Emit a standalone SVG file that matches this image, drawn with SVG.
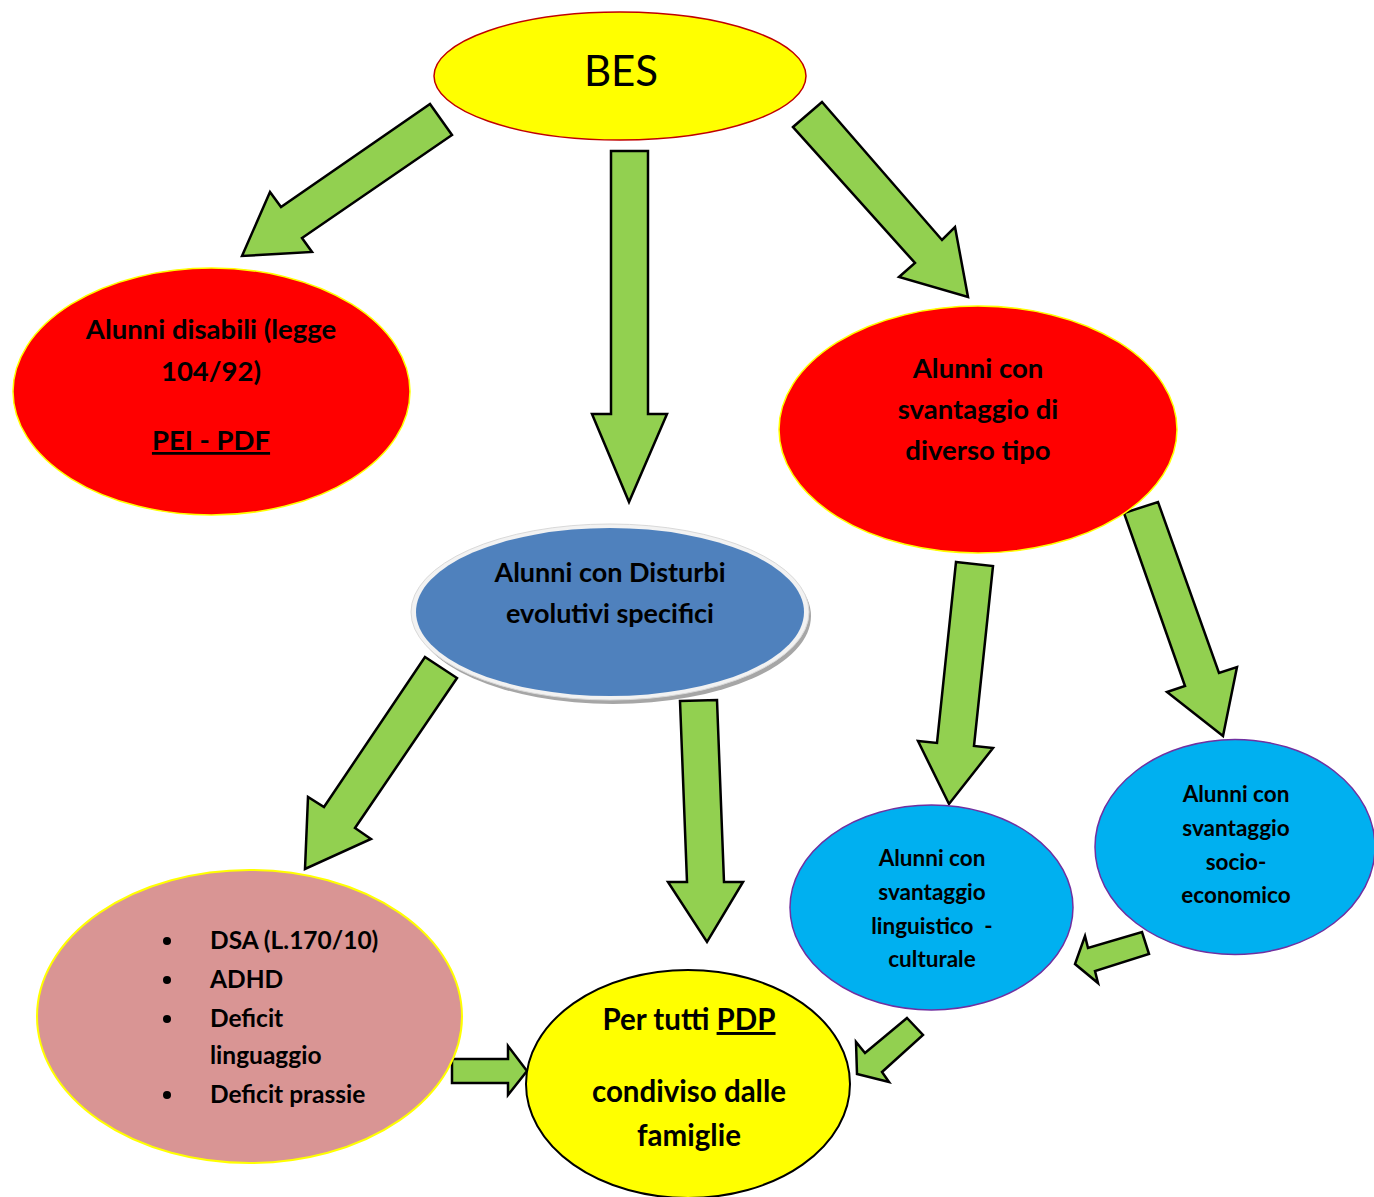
<svg xmlns="http://www.w3.org/2000/svg" width="1374" height="1197" viewBox="0 0 1374 1197">
<style>
.arrow{fill:#92D050;stroke:#000;stroke-width:2.5;stroke-linejoin:miter}
.t{font-family:Lato,"Liberation Sans",sans-serif;font-weight:bold;fill:#000;text-anchor:middle}
.l{font-family:Lato,"Liberation Sans",sans-serif;font-weight:bold;fill:#000}
</style>
<rect width="1374" height="1197" fill="#fff"/>
<g id="connectors">
<polygon class="arrow" points="430,104 452,135 302,238 312,252 242,256 270,192 281,207"/>
<polygon class="arrow" points="611,151 648,151 648,414 667,414 629,502 592,414 611,414"/>
<polygon class="arrow" points="793,127 822,102 942,240 955,227 968,297 899,277 915,263"/>
<polygon class="arrow" points="956,562 993,566 974,746 993,748 949,804 918,741 937,743"/>
<polygon class="arrow" points="1124,513 1158,502 1219,673 1237,667 1223,736 1167,692 1185,686"/>
<polygon class="arrow" points="425,657 457,678 355,828 371,839 305,869 308,797 324,807"/>
<polygon class="arrow" points="680,701 717,700 724,882 743,882 707,942 668,882 687,882"/>
<polygon class="arrow" points="1149,954 1142,932 1088,948 1085,936 1075,964 1098,983 1095,971"/>
<polygon class="arrow" points="907,1018 923,1035 882,1072 889,1082 857,1074 856,1042 865,1053"/>
<polygon class="arrow" points="452,1059 508,1059 508,1046 527,1071 508,1095 508,1083 452,1083"/>
</g>
<g id="bes">
<ellipse cx="620" cy="76" rx="186" ry="64" fill="#FFFF00" stroke="#C00000" stroke-width="1.5"/>
<text x="621" y="86" font-family="Lato,'Liberation Sans',sans-serif" font-size="42" text-anchor="middle" fill="#000">BES</text>
</g>
<g id="disabili">
<ellipse cx="211.5" cy="391.5" rx="198.5" ry="123.5" fill="#FF0000" stroke="#FFFF00" stroke-width="1.5"/>
<text class="t" font-size="27.5" x="211" y="339">Alunni disabili (legge</text>
<text class="t" font-size="27.5" x="211" y="381">104/92)</text>
<text class="t" font-size="27.5" x="211" y="450" text-decoration="underline">PEI - PDF</text>
</g>
<g id="svantaggio">
<ellipse cx="978" cy="429.5" rx="199" ry="123.5" fill="#FF0000" stroke="#FFFF00" stroke-width="1.5"/>
<text class="t" font-size="27.5" x="978" y="378">Alunni con</text>
<text class="t" font-size="27.5" x="978" y="419">svantaggio di</text>
<text class="t" font-size="27.5" x="978" y="460">diverso tipo</text>
</g>
<g id="disturbi">
<ellipse cx="613" cy="616" rx="198" ry="88" fill="#A6A6A6"/>
<ellipse cx="610" cy="612" rx="199" ry="88" fill="#F2F2F2" stroke="#D9D9D9" stroke-width="1"/>
<ellipse cx="610" cy="612" rx="194" ry="84" fill="#4F81BD"/>
<text class="t" font-size="27" x="610" y="582">Alunni con Disturbi</text>
<text class="t" font-size="27" x="610" y="623">evolutivi specifici</text>
</g>
<g id="dsa">
<ellipse cx="249.5" cy="1016.5" rx="212.5" ry="146.5" fill="#D99594" stroke="#FFFF00" stroke-width="2"/>
<circle cx="167" cy="941" r="4"/>
<circle cx="167" cy="980" r="4"/>
<circle cx="167" cy="1019" r="4"/>
<circle cx="167" cy="1095" r="4"/>
<text class="l" font-size="24.5" x="210" y="949">DSA (L.170/10)</text>
<text class="l" font-size="24.5" x="210" y="988">ADHD</text>
<text class="l" font-size="24.5" x="210" y="1027">Deficit</text>
<text class="l" font-size="24.5" x="210" y="1064">linguaggio</text>
<text class="l" font-size="24.5" x="210" y="1103">Deficit prassie</text>
</g>
<g id="pdp">
<ellipse cx="688" cy="1084" rx="162" ry="114" fill="#FFFF00" stroke="#000" stroke-width="2"/>
<text class="t" font-size="29.5" x="689" y="1030">Per tutti <tspan text-decoration="underline">PDP</tspan></text>
<text class="t" font-size="29.5" x="689" y="1102">condiviso dalle</text>
<text class="t" font-size="29.5" x="689" y="1146">famiglie</text>
</g>
<g id="linguistico">
<ellipse cx="931.5" cy="907.5" rx="141.5" ry="102.5" fill="#00B0F0" stroke="#7030A0" stroke-width="1.5"/>
<text class="t" font-size="22.5" x="932" y="866">Alunni con</text>
<text class="t" font-size="22.5" x="932" y="900">svantaggio</text>
<text class="t" font-size="22.5" x="932" y="934" xml:space="preserve">linguistico  -</text>
<text class="t" font-size="22.5" x="932" y="967">culturale</text>
</g>
<g id="socio">
<ellipse cx="1235" cy="847" rx="140" ry="107.5" fill="#00B0F0" stroke="#7030A0" stroke-width="1.5"/>
<text class="t" font-size="22.5" x="1236" y="802">Alunni con</text>
<text class="t" font-size="22.5" x="1236" y="836">svantaggio</text>
<text class="t" font-size="22.5" x="1236" y="870">socio-</text>
<text class="t" font-size="22.5" x="1236" y="903">economico</text>
</g>
</svg>
